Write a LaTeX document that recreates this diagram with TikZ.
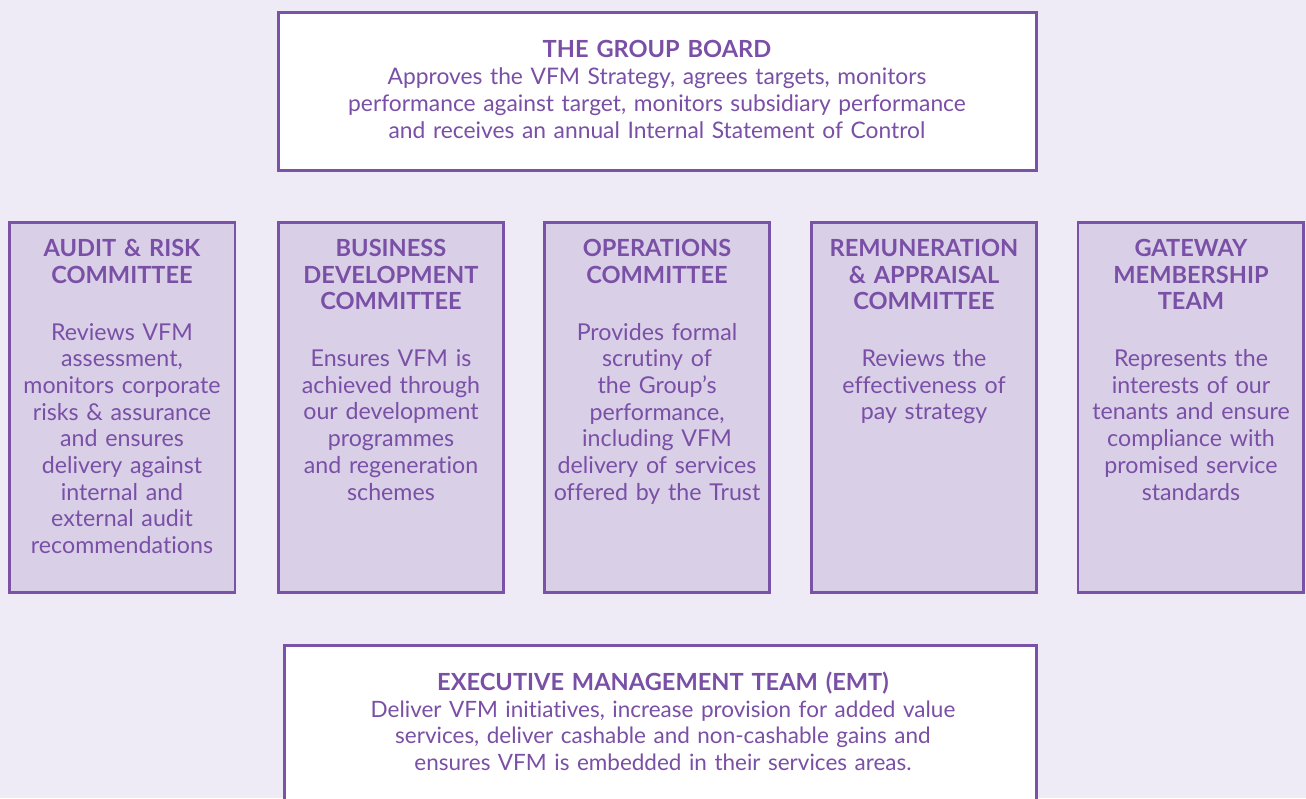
\documentclass[tikz,border=0pt]{standalone}
\usepackage{fontspec}
\setmainfont{Lato}[Ligatures={NoCommon}]
\definecolor{pagebg}{HTML}{EFEBF6}
\definecolor{ink}{HTML}{7A4FA6}
\definecolor{rim}{HTML}{7A52A8}
\definecolor{panel}{HTML}{D9CFE7}
\tikzset{
  x=1pt, y=-1pt,
  whitebox/.style={draw=rim, line width=2.6pt, fill=white},
  panelbox/.style={draw=rim, line width=2.6pt, fill=panel},
  txt/.style={anchor=base, inner sep=0pt, text width=320pt, align=center, text=ink},
  head/.style={txt, font=\fontsize{23.6}{26.3}\selectfont\bfseries},
  body/.style={txt, font=\fontsize{23.2}{26.7}\selectfont},
  widebody/.style={txt, text width=700pt, font=\fontsize{#1}{26.8}\selectfont},
}
\begin{document}
\begin{tikzpicture}
\useasboundingbox (0,0) rectangle (1306,798);
\clip (0,0) rectangle (1306,798);
\fill[pagebg] (0,0) rectangle (1306,798);

% Group board
\draw[whitebox] (278.3,12.3) rectangle (1036.7,170.7);
\node[head] (boardT) at (657,57.5) {THE GROUP BOARD};
\node[widebody=22.8] (boardB) at (657,84.6) {Approves the VFM Strategy, agrees targets, monitors\\
performance against target, monitors subsidiary performance\\
and receives an annual Internal Statement of Control};

% Committees
\draw[panelbox] (9.3,222.3) rectangle (235,592.7);
\draw[panelbox] (278.3,222.3) rectangle (503.7,592.7);
\draw[panelbox] (544.3,222.3) rectangle (769.7,592.7);
\draw[panelbox] (811.3,222.3) rectangle (1036.7,592.7);
\draw[panelbox] (1078,222.3) rectangle (1303.7,592.7);

\node[head] (auditT) at (122,256.7) {AUDIT \& RISK\\COMMITTEE};
\node[body] (auditB) at (122,340) {Reviews VFM\\assessment,\\monitors corporate\\risks \& assurance\\and ensures\\delivery against\\internal and\\external audit\\recommendations};

\node[head] (busT) at (391,256.7) {BUSINESS\\DEVELOPMENT\\COMMITTEE};
\node[body] (busB) at (391,366.5) {Ensures VFM is\\achieved through\\our development\\programmes\\and regeneration\\schemes};

\node[head] (opsT) at (657,256.7) {OPERATIONS\\COMMITTEE};
\node[body] (opsB) at (657,340) {Provides formal\\scrutiny of\\the Group’s\\performance,\\including VFM\\delivery of services\\offered by the Trust};

\node[head] (remT) at (924,256.7) {REMUNERATION\\\& APPRAISAL\\COMMITTEE};
\node[body] (remB) at (924,366.5) {Reviews the\\effectiveness of\\pay strategy};

\node[head] (gateT) at (1191,256.7) {GATEWAY\\MEMBERSHIP\\TEAM};
\node[body] (gateB) at (1191,366.5) {Represents the\\interests of our\\tenants and ensure\\compliance with\\promised service\\standards};

% Executive management team
\draw[whitebox] (284.3,645.3) rectangle (1036.3,830);
\node[head, text width=700pt] (emtT) at (663,690) {EXECUTIVE MANAGEMENT TEAM (EMT)};
\node[widebody=22.5] (emtB) at (663,717) {Deliver VFM initiatives, increase provision for added value\\
services, deliver cashable and non-cashable gains and\\
ensures VFM is embedded in their services areas.};
\end{tikzpicture}
\end{document}
